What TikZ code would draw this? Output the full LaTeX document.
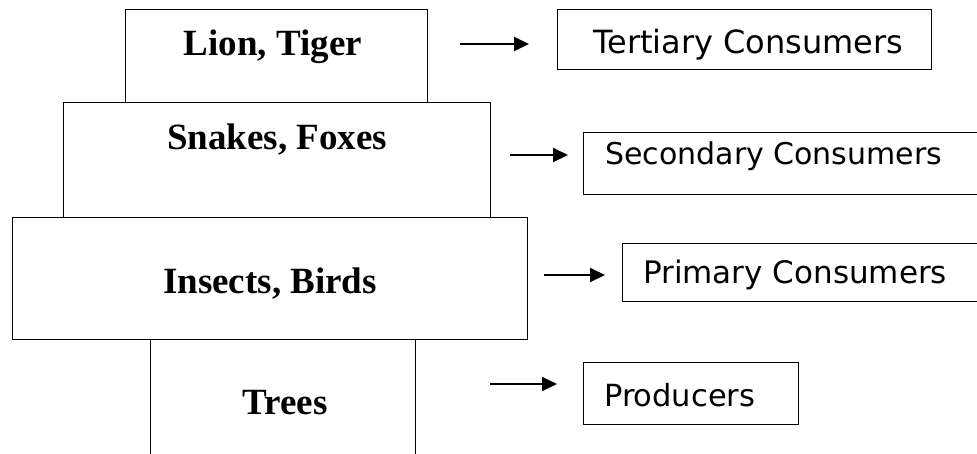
\documentclass[tikz,border=0pt]{standalone}
\usepackage{fontspec}
\setmainfont{Liberation Serif}
\newfontfamily\verd{DejaVu Sans}
\usetikzlibrary{arrows.meta}
\tikzset{
  pbox/.style={draw=black, line width=0.9pt, rectangle, inner sep=0pt, outer sep=0pt},
  rbox/.style={draw=black, line width=0.9pt, rectangle, inner sep=0pt, outer sep=0pt},
  ptext/.style={font=\fontsize{37}{40}\selectfont\bfseries, inner sep=0pt, anchor=base},
  rtext/.style={font=\verd\fontsize{#1}{34}\selectfont, inner sep=0pt, anchor=base west},
  arr/.style={line width=2pt, -{Triangle[length=15pt,width=14pt]}}
}
\begin{document}
\begin{tikzpicture}[x=1pt,y=-1pt]
\clip (0,0) rectangle (977,453);
\fill[white] (0,0) rectangle (977,453);
% pyramid boxes
\node[pbox, minimum width=265pt, minimum height=141pt] (trees) at (282.5,409.5) {};
\node[pbox, minimum width=515pt, minimum height=122pt] (insects) at (269.5,278) {};
\node[pbox, minimum width=427pt, minimum height=115pt] (snakes) at (276.5,159.5) {};
\node[pbox, minimum width=302pt, minimum height=93pt] (lion) at (276,55.5) {};
% pyramid labels
\node[ptext] (tlion) at (273,55) {Lion, Tiger};
\node[ptext] (tsnakes) at (277,149) {Snakes, Foxes};
\node[ptext] (tinsects) at (270,293) {Insects, Birds};
\node[ptext] (ttrees) at (285,414) {Trees};
% right boxes
\node[rbox, minimum width=374pt, minimum height=60pt] (tert) at (744,39) {};
\node[rbox, minimum width=427pt, minimum height=62pt] (sec) at (796.5,163) {};
\node[rbox, minimum width=388pt, minimum height=58pt] (prim) at (816,272) {};
\node[rbox, minimum width=215pt, minimum height=62pt] (prod) at (690.5,393) {};
\node[rtext=32] (ttert) at (593,53) {Tertiary Consumers};
\node[rtext=30] (tsec) at (605,164) {Secondary Consumers};
\node[rtext=31] (tprim) at (643,283) {Primary Consumers};
\node[rtext=30.5] (tprod) at (604,406) {Producers};
% arrows
\coordinate (a1s) at (460,44); \coordinate (a1e) at (529,44);
\coordinate (a2s) at (510,155); \coordinate (a2e) at (568,155);
\coordinate (a3s) at (544,275); \coordinate (a3e) at (605,275);
\coordinate (a4s) at (490,384); \coordinate (a4e) at (557,384);
\draw[arr] (a1s) -- (a1e);
\draw[arr] (a2s) -- (a2e);
\draw[arr] (a3s) -- (a3e);
\draw[arr] (a4s) -- (a4e);
\end{tikzpicture}
\end{document}
